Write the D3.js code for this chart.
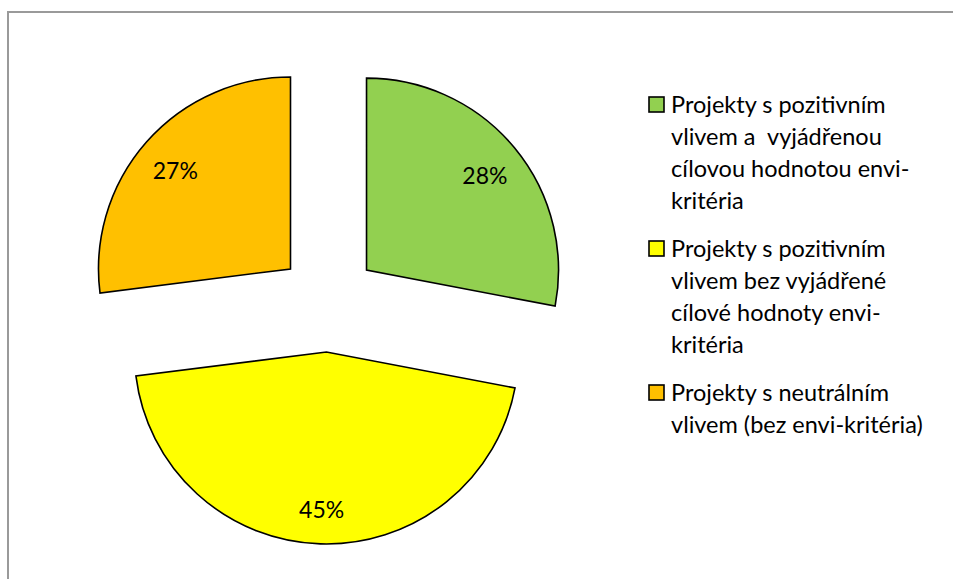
<!DOCTYPE html>
<html>
<head>
<meta charset="utf-8">
<script src="https://cdn.jsdelivr.net/npm/d3@7"></script>
<style>
  html, body { margin: 0; padding: 0; background: #fff; }
  svg { display: block; }
</style>
</head>
<body>
<svg id="chart" width="953" height="579"></svg>
<script>
// Share of projects by environmental criterion
const categories = [
  "Projekty s pozitivním vlivem a vyjádřenou cílovou hodnotou envi-kritéria",
  "Projekty s pozitivním vlivem bez vyjádřené cílové hodnoty envi-kritéria",
  "Projekty s neutrálním vlivem (bez envi-kritéria)"
];
const values = [28, 45, 27];
const colors = ["#92d050", "#ffff00", "#ffc000"];
const legendLines = [
  ["Projekty s pozitivním", "vlivem a  vyjádřenou", "cílovou hodnotou envi-", "kritéria"],
  ["Projekty s pozitivním", "vlivem bez vyjádřené", "cílové hodnoty envi-", "kritéria"],
  ["Projekty s neutrálním", "vlivem (bez envi-kritéria)"]
];

const svg = d3.select("#chart");
const W = 953, H = 579;
const font = "Lato, 'Open Sans', 'Liberation Sans', sans-serif";

// chart area frame (only top and left edges fall inside the view)
svg.append("path")
  .attr("d", `M8,${H} L8,12 L${W},12`)
  .attr("fill", "none")
  .attr("stroke", "#9a9a9a")
  .attr("stroke-width", 2);

const cx = 328, cy = 302, R = 192, explode = 50;

const pie = d3.pie().sort(null).value(d => d)(values);
const arc = d3.arc().innerRadius(0).outerRadius(R);
const labelArc = d3.arc().innerRadius(R * 0.8).outerRadius(R * 0.8);

const g = svg.append("g").attr("transform", `translate(${cx},${cy})`);

const slices = g.selectAll("g.slice").data(pie).enter().append("g")
  .attr("class", "slice")
  .attr("transform", d => {
    const a = (d.startAngle + d.endAngle) / 2;
    return `translate(${explode * Math.sin(a)},${-explode * Math.cos(a)})`;
  });

slices.append("path")
  .attr("d", arc)
  .attr("fill", (d, i) => colors[i])
  .attr("stroke", "#000")
  .attr("stroke-width", 1.6)
  .attr("stroke-linejoin", "miter");

slices.append("text")
  .attr("transform", d => {
    const [x, y] = labelArc.centroid(d);
    return `translate(${x},${y + 4})`;
  })
  .attr("text-anchor", "middle")
  .attr("dy", "0.35em")
  .attr("font-family", font)
  .attr("font-size", 23)
  .attr("fill", "#000")
  .text(d => `${d.data}%`);

// legend
const legend = svg.append("g");
const itemTops = [105, 249, 393];
const lineH = 32;
legendLines.forEach((lines, i) => {
  const y0 = itemTops[i];
  legend.append("rect")
    .attr("x", 649).attr("y", y0 - 8)
    .attr("width", 15).attr("height", 15)
    .attr("fill", colors[i])
    .attr("stroke", "#000")
    .attr("stroke-width", 1.6);
  const t = legend.append("text")
    .attr("font-family", font)
    .attr("font-size", 23.5)
    .attr("fill", "#000");
  lines.forEach((ln, j) => {
    t.append("tspan")
      .attr("x", 671)
      .attr("y", y0 + j * lineH)
      .attr("dy", "0.35em")
      .attr("xml:space", "preserve")
      .text(ln);
  });
});
</script>
</body>
</html>
